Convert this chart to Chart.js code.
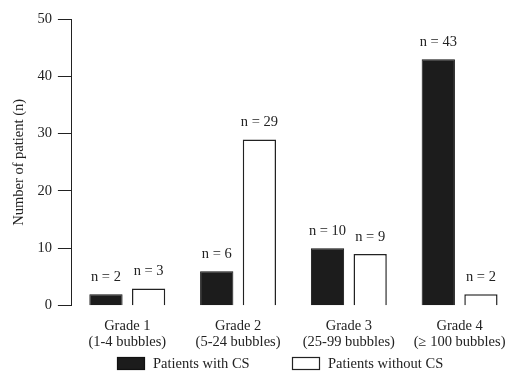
<!DOCTYPE html>
<html>
<head>
<meta charset="utf-8">
<script src="https://cdn.jsdelivr.net/npm/chart.js@4/dist/chart.umd.min.js"></script>
<style>
  html, body { margin: 0; padding: 0; background: #fff; }
  #wrap { width: 516px; height: 372px; }
</style>
</head>
<body>
<div id="wrap"><canvas id="chart"></canvas></div>
<script>
// bubble grade vs. patients with / without CS
const grades = [
  ['Grade 1', '(1-4 bubbles)'],
  ['Grade 2', '(5-24 bubbles)'],
  ['Grade 3', '(25-99 bubbles)'],
  ['Grade 4', '(\u2265 100 bubbles)']
];
const withCS = [2, 6, 10, 43];
const withoutCS = [3, 29, 9, 2];
const yTicks = [0, 10, 20, 30, 40, 50];

const serif = '"Liberation Serif", "DejaVu Serif", serif';
const fs = 14.5;
Chart.defaults.font.family = serif;
Chart.defaults.color = '#222';

// draws "n = x" over every bar
const nLabels = {
  id: 'nLabels',
  afterDatasetsDraw(chart) {
    const ctx = chart.ctx;
    ctx.save();
    ctx.font = fs + 'px ' + serif;
    ctx.fillStyle = '#222';
    ctx.textAlign = 'center';
    ctx.textBaseline = 'bottom';
    chart.data.datasets.forEach((ds, i) => {
      chart.getDatasetMeta(i).data.forEach((bar, j) => {
        ctx.fillText('n = ' + ds.data[j], bar.x, bar.y - 10);
      });
    });
    ctx.restore();
  }
};

// legend spread out under the axis like the original figure
const wideLegend = {
  id: 'wideLegend',
  afterDraw(chart) {
    const ctx = chart.ctx;
    const xs = [117, 292];
    const y = 357;
    ctx.save();
    ctx.font = fs + 'px ' + serif;
    ctx.textBaseline = 'middle';
    ctx.textAlign = 'left';
    chart.data.datasets.forEach((ds, i) => {
      ctx.fillStyle = ds.backgroundColor;
      ctx.fillRect(xs[i], y, 28, 13);
      ctx.strokeStyle = ds.borderColor;
      ctx.lineWidth = 1.2;
      ctx.strokeRect(xs[i] + 0.5, y + 0.5, 27, 12);
      ctx.fillStyle = '#222';
      ctx.fillText(ds.label, xs[i] + 36, y + 7);
    });
    ctx.restore();
  }
};

new Chart(document.getElementById('chart'), {
  type: 'bar',
  data: {
    labels: grades,
    datasets: [{
      label: 'Patients with CS',
      data: withCS,
      backgroundColor: '#1c1c1c',
      borderColor: '#111',
      borderWidth: 1
    }, {
      label: 'Patients without CS',
      data: withoutCS,
      backgroundColor: '#fff',
      borderColor: '#222',
      borderWidth: 1.5
    }]
  },
  options: {
    responsive: true,
    maintainAspectRatio: false,
    animation: false,
    categoryPercentage: 0.77,
    barPercentage: 0.78,
    layout: { padding: { top: 19, right: 1, left: 6, bottom: 17 } },
    plugins: {
      legend: { display: false },
      tooltip: { enabled: false }
    },
    scales: {
      x: {
        grid: { display: false },
        border: { display: false },
        ticks: { font: { size: fs, lineHeight: 1.15 }, color: '#222', padding: 4, maxRotation: 0 }
      },
      y: {
        min: 0,
        max: 50,
        afterBuildTicks: s => { s.ticks = yTicks.map(v => ({ value: v })); },
        grid: { drawOnChartArea: false, tickLength: 14, color: '#222', lineWidth: 1 },
        border: { display: true, color: '#222', width: 1 },
        ticks: { font: { size: fs }, color: '#222', padding: 6 },
        title: { display: true, text: 'Number of patient (n)', font: { size: fs }, color: '#222', padding: { bottom: 4 } }
      }
    }
  },
  plugins: [nLabels, wideLegend]
});
</script>
</body>
</html>
